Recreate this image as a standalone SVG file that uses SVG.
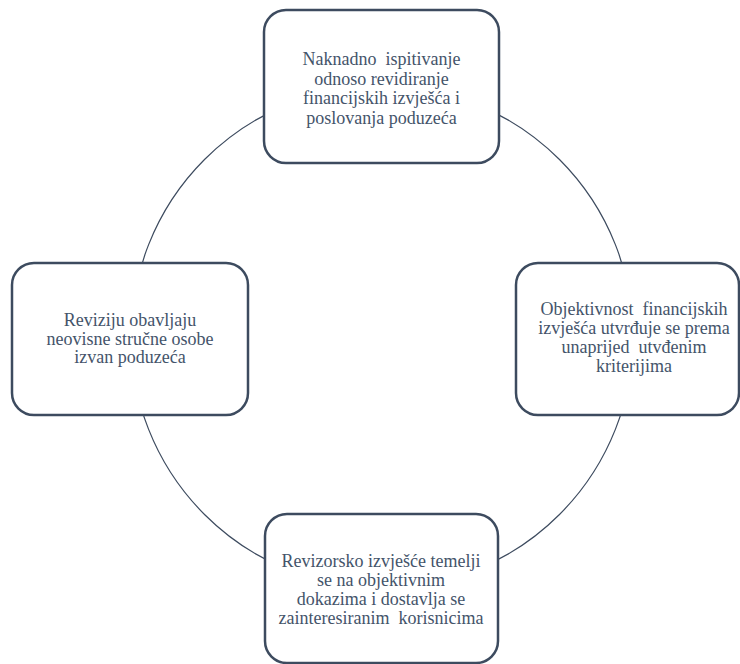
<svg xmlns="http://www.w3.org/2000/svg" width="740" height="664" viewBox="0 0 740 664">
<style>
.node{fill:#fff;stroke:#3d4b5f;stroke-width:2.5}
.conn{fill:none;stroke:#3d4b5f;stroke-width:1.2}
.t{font-size:18px;fill:#44546a;text-anchor:middle}
</style>
<rect width="740" height="664" fill="#fff"/>
<g id="connectors">
<circle class="conn" cx="382" cy="337" r="251"/>
</g>
<g font-family="Liberation Serif, DejaVu Serif, serif">
<g id="node-top">
<rect class="node" x="264" y="10" width="235" height="153" rx="22"/>
<text class="t" x="381.5" y="65" xml:space="preserve">Naknadno  ispitivanje</text>
<text class="t" x="381.5" y="84.5">odnoso revidiranje</text>
<text class="t" x="381.5" y="104">financijskih izvješća i</text>
<text class="t" x="381.5" y="123.5">poslovanja poduzeća</text>
</g>
<g id="node-left">
<rect class="node" x="12" y="263" width="236" height="152" rx="22"/>
<text class="t" x="130" y="326">Reviziju obavljaju</text>
<text class="t" x="130" y="344.5">neovisne stručne osobe</text>
<text class="t" x="130" y="363">izvan poduzeća</text>
</g>
<g id="node-right">
<rect class="node" x="516" y="263" width="223" height="152" rx="22"/>
<text class="t" x="634" y="315" xml:space="preserve">Objektivnost  financijskih</text>
<text class="t" x="634" y="334">izvješća utvrđuje se prema</text>
<text class="t" x="634" y="353" xml:space="preserve">unaprijed  utvđenim</text>
<text class="t" x="634" y="372">kriterijima</text>
</g>
<g id="node-bottom">
<rect class="node" x="265" y="514" width="233" height="149" rx="22"/>
<text class="t" x="381" y="567">Revizorsko izvješće temelji</text>
<text class="t" x="381" y="586">se na objektivnim</text>
<text class="t" x="381" y="605">dokazima i dostavlja se</text>
<text class="t" x="381" y="624" xml:space="preserve">zainteresiranim  korisnicima</text>
</g>
</g>
</svg>
